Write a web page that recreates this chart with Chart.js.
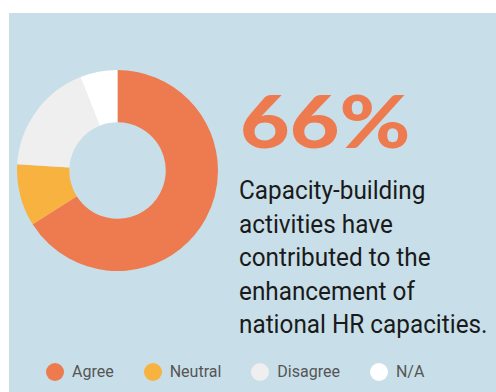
<!DOCTYPE html>
<html>
<head>
<meta charset="utf-8">
<script src="https://cdn.jsdelivr.net/npm/chart.js@4/dist/chart.umd.min.js"></script>
<style>
  html, body { margin: 0; padding: 0; background: #fff; }
  body { width: 496px; height: 392px; position: relative; overflow: hidden; }
  #panel { position: absolute; left: 9px; top: 13px; right: 0; bottom: 0; background: #c8dfe9; }
  #donut { position: absolute; left: 17px; top: 70px; }
  #bigPct {
    position: absolute; left: 240px; top: 75px;
    font-family: Lato, sans-serif; font-weight: 900; font-size: 72px; line-height: 90px;
    color: #ee7b4f; transform-origin: left top; transform: scaleX(1.19); white-space: nowrap;
  }
  #caption {
    position: absolute; left: 239px; top: 174px;
    font-family: Roboto, sans-serif; font-size: 26px; line-height: 33.5px;
    color: #1a1a1a; transform-origin: left top; transform: scaleX(0.935); white-space: nowrap;
  }
  #legend {
    position: absolute; left: 46px; top: 362px; display: flex; align-items: center;
    font-family: Roboto, sans-serif; font-size: 16px; color: #555;
  }
  .item { display: flex; align-items: center; margin-right: 30px; }
  .dot { width: 18px; height: 18px; border-radius: 50%; margin-right: 8px; }
</style>
</head>
<body>
<div id="panel"></div>
<canvas id="donut" width="201" height="201"></canvas>
<div id="bigPct"></div>
<div id="caption">Capacity-building<br>activities have<br>contributed to the<br>enhancement of<br>national HR capacities.</div>
<div id="legend"></div>

<script>
// survey answers, share of respondents (%)
const answers = ['Agree', 'Neutral', 'Disagree', 'N/A'];
const shares = [66, 10, 18, 6];
const colors = ['#ee7b4f', '#f8b23f', '#efefef', '#ffffff'];

const chart = new Chart(document.getElementById('donut'), {
  type: 'doughnut',
  data: {
    labels: answers,
    datasets: [{ data: shares, backgroundColor: colors, borderWidth: 0, hoverOffset: 0 }]
  },
  options: {
    responsive: false,
    animation: false,
    cutout: '48%',
    layout: { padding: 0 },
    plugins: { legend: { display: false }, tooltip: { enabled: false } }
  }
});

// headline figure comes from the first slice
document.getElementById('bigPct').textContent = shares[0] + '%';

// legend row under the panel
const legend = document.getElementById('legend');
chart.data.labels.forEach((label, i) => {
  const item = document.createElement('div');
  item.className = 'item';
  item.innerHTML = `<span class="dot" style="background:${colors[i]}"></span><span>${label}</span>`;
  legend.appendChild(item);
});
</script>
</body>
</html>
